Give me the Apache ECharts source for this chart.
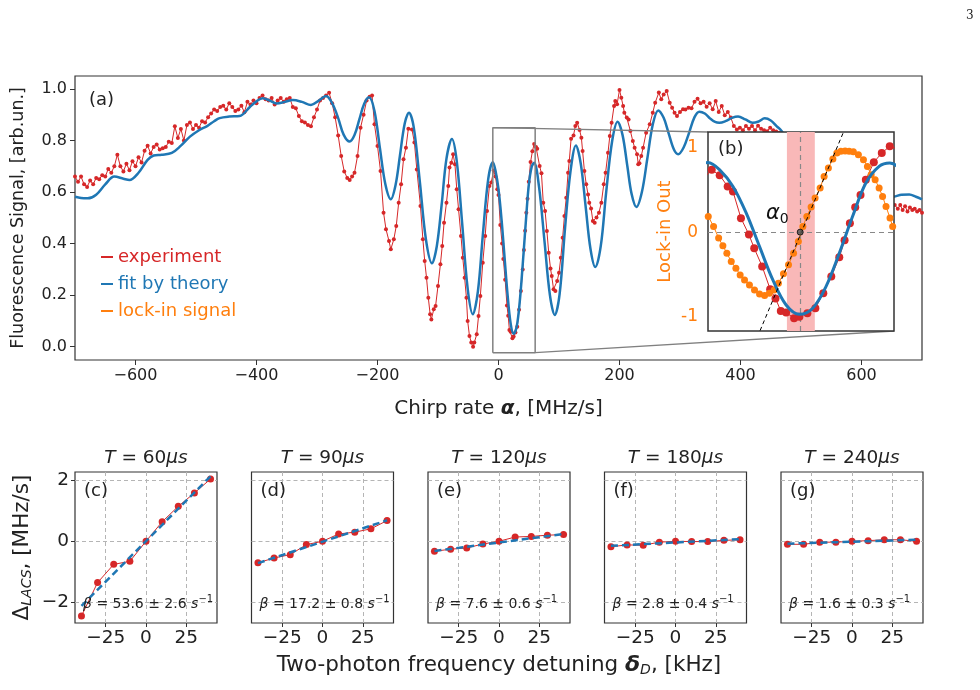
<!DOCTYPE html>
<html>
<head>
<meta charset="utf-8">
<script src="https://cdn.jsdelivr.net/npm/echarts@6/dist/echarts.min.js"></script>
<style>html,body{margin:0;padding:0;background:#fff}#chart{width:980px;height:690px}</style>
</head>
<body>
<div id="chart"></div>
<script>
// ---- panel (a): fluorescence vs chirp rate ----
var experiment = [
[-700,0.66],[-695,0.64],[-690,0.66],[-685,0.63],[-680,0.62],[-675,0.645],[-670,0.63],[-665,0.655],[-660,0.65],[-655,0.665],
[-650,0.66],[-645,0.69],[-640,0.675],[-635,0.70],[-630,0.745],[-625,0.70],[-620,0.68],[-615,0.71],[-610,0.685],[-605,0.72],
[-600,0.70],[-595,0.735],[-590,0.715],[-585,0.76],[-580,0.78],[-575,0.75],[-570,0.775],[-565,0.785],[-560,0.765],[-555,0.77],
[-550,0.775],[-545,0.795],[-540,0.79],[-535,0.855],[-530,0.81],[-525,0.845],[-520,0.80],[-515,0.86],[-510,0.87],[-505,0.845],
[-500,0.86],[-495,0.85],[-490,0.875],[-485,0.87],[-480,0.89],[-475,0.905],[-470,0.92],[-465,0.915],[-460,0.93],[-455,0.935],
[-450,0.92],[-445,0.945],[-440,0.93],[-435,0.915],[-430,0.92],[-425,0.935],[-420,0.91],[-415,0.95],[-410,0.94],[-405,0.955],
[-400,0.945],[-395,0.965],[-390,0.975],[-385,0.96],[-380,0.955],[-375,0.965],[-370,0.94],[-365,0.955],[-360,0.965],[-355,0.95],
[-350,0.96],[-345,0.965],[-340,0.93],[-335,0.925],[-330,0.895],[-325,0.875],[-320,0.87],[-315,0.86],[-310,0.855],[-305,0.89],
[-300,0.92],[-295,0.955],[-290,0.965],[-285,0.975],[-280,0.985],[-275,0.945],[-270,0.89],[-265,0.82],[-260,0.74],[-255,0.68],
[-250,0.655],[-246,0.647],[-242,0.66],[-238,0.675],[-233,0.74],[-228,0.85],[-223,0.90],[-218,0.955],[-213,0.97],[-209,0.975],
[-205,0.863],[-200,0.779],[-195,0.682],[-190,0.52],[-186,0.456],[-181,0.41],[-178,0.378],[-173,0.417],[-169,0.468],[-165,0.559],
[-161,0.63],[-157,0.727],[-153,0.772],[-149,0.846],[-143,0.843],[-139,0.792],[-135,0.688],[-129,0.546],[-125,0.417],[-122,0.333],
[-119,0.268],[-116,0.19],[-113,0.126],[-111,0.106],[-107,0.145],[-104,0.158],[-100,0.236],[-96,0.32],[-93,0.391],[-90,0.481],
[-86,0.559],[-83,0.624],[-81,0.695],[-78,0.714],[-75,0.747],[-72,0.708],[-69,0.611],[-66,0.533],[-62,0.43],[-59,0.345],
[-56,0.268],[-53,0.19],[-51,0.1],[-48,0.042],[-45,0.016],[-42,0.0],[-40,0.016],[-36,0.048],[-33,0.119],[-30,0.197],
[-26,0.326],[-22,0.43],[-19,0.527],[-15,0.624],[-12,0.637],[-8,0.684],[-5,0.66],[-2,0.611],[0,0.589],[3,0.472],
[6,0.40],[8,0.34],[11,0.26],[14,0.16],[16,0.12],[18,0.065],[20,0.058],[23,0.033],[25,0.04],[28,0.055],
[31,0.077],[34,0.143],[37,0.216],[40,0.30],[42,0.375],[44,0.45],[46,0.52],[48,0.574],[50,0.64],[53,0.717],
[56,0.758],[59,0.787],[62,0.775],[64,0.768],[68,0.701],[71,0.673],[74,0.559],[77,0.527],[80,0.449],[83,0.365],
[86,0.303],[88,0.274],[91,0.223],[94,0.216],[97,0.255],[100,0.287],[103,0.345],[106,0.423],[109,0.507],[112,0.578],
[115,0.675],[117,0.721],[120,0.807],[124,0.82],[127,0.856],[130,0.869],[134,0.841],[137,0.811],[139,0.759],[142,0.682],
[145,0.63],[148,0.591],[150,0.559],[153,0.536],[156,0.488],[159,0.481],[162,0.501],[166,0.52],[170,0.559],[174,0.63],
[177,0.675],[181,0.753],[184,0.818],[187,0.869],[191,0.934],[193,0.953],[196,0.941],[200,0.996],[203,0.966],[206,0.934],
[208,0.908],[212,0.889],[215,0.882],[218,0.837],[222,0.798],[225,0.772],[229,0.747],[231,0.708],[233,0.712],[236,0.74],
[239,0.772],[244,0.83],[250,0.863],[255,0.908],[259,0.947],[265,0.986],[269,0.96],[273,0.979],[278,0.992],[283,0.947],
[287,0.927],[291,0.908],[295,0.895],[300,0.911],[305,0.921],[309,0.92],[314,0.927],[319,0.925],[324,0.95],[329,0.962],
[334,0.945],[339,0.95],[344,0.931],[349,0.945],[354,0.921],[359,0.953],[364,0.911],[369,0.934],[374,0.898],[379,0.911],
[384,0.889],[389,0.856],[394,0.843],[399,0.85],[404,0.84],[409,0.856],[414,0.846],[419,0.856],[424,0.84],[429,0.857],
[434,0.846],[439,0.84],[444,0.836],[449,0.85],[454,0.84],[459,0.835],[464,0.83],[470,0.82],[480,0.80],[490,0.81],
[500,0.78],[520,0.75],[540,0.72],[560,0.68],[580,0.63],[600,0.60],[620,0.57],[640,0.56],[655,0.55],[660,0.535],
[664,0.55],[668,0.53],[672,0.545],[676,0.525],[680,0.54],[684,0.53],[688,0.535],[692,0.525],[696,0.53],[700,0.52]
];
var fitTheory = [
[-700,0.582],[-690,0.577],[-679,0.576],[-665,0.59],[-650,0.63],[-635,0.66],[-620,0.652],[-610,0.647],[-595,0.675],[-580,0.725],
[-570,0.742],[-557,0.745],[-540,0.752],[-525,0.78],[-510,0.815],[-495,0.84],[-481,0.857],[-470,0.875],[-461,0.887],[-445,0.893],
[-428,0.895],[-411,0.93],[-400,0.952],[-390,0.964],[-378,0.955],[-367,0.944],[-353,0.95],[-340,0.957],[-325,0.95],[-310,0.938],
[-297,0.955],[-285,0.973],[-275,0.945],[-265,0.887],[-256,0.823],[-246,0.796],[-238,0.821],[-230,0.882],[-222,0.943],[-214,0.968],
[-205,0.915],[-196,0.77],[-187,0.63],[-178,0.572],[-170,0.629],[-163,0.74],[-155,0.866],[-148,0.908],[-140,0.85],[-130,0.64],
[-120,0.417],[-110,0.324],[-102,0.39],[-94,0.55],[-86,0.73],[-77,0.806],[-69,0.72],[-60,0.477],[-51,0.226],[-42.5,0.126],
[-34,0.216],[-26,0.43],[-17,0.65],[-9.4,0.716],[-5,0.684],[0,0.611],[5,0.494],[10,0.347],[15,0.201],[20,0.091],
[25,0.05],[30,0.077],[35,0.172],[40,0.318],[45,0.479],[50,0.626],[55,0.699],[59,0.714],[67,0.62],[76,0.41],
[85,0.2],[93,0.123],[101,0.204],[110,0.46],[119,0.68],[128,0.781],[136,0.71],[144,0.545],[152,0.38],[160,0.309],
[169,0.39],[178,0.6],[188,0.8],[197,0.873],[205,0.822],[213,0.70],[220,0.593],[228,0.542],[237,0.60],[246,0.73],
[255,0.862],[264,0.917],[273,0.888],[281,0.83],[290,0.765],[297,0.747],[306,0.773],[315,0.83],[324,0.891],[332,0.912],
[341,0.905],[350,0.885],[358,0.872],[365,0.869],[375,0.875],[386,0.888],[396,0.893],[408,0.882],[420,0.869],[430,0.874],
[440,0.886],[450,0.878],[460,0.855],[467,0.84],[480,0.80],[500,0.76],[530,0.70],[560,0.65],[590,0.62],[620,0.60],
[640,0.585],[653,0.582],[666,0.59],[679,0.591],[690,0.582],[700,0.572]
];
var xTicksA = [-600, -400, -200, 0, 200, 400, 600];
var yTicksA = [0, 0.2, 0.4, 0.6, 0.8, 1.0];

// ---- panel (b): inset with lock-in signal ----
var insetAlpha = [-9.4, 60.6];
var insetSignal = [-0.023, 0.85];
var lockinRange = [-1.175, 1.19];
var lockinTicks = [-1, 0, 1];
var lockin = [
[-9.3,0.186],[-7.3,0.067],[-5.4,-0.071],[-3.8,-0.163],[-2.3,-0.25],[-0.65,-0.35],[1.1,-0.429],[2.7,-0.508],[4.35,-0.568],[6.2,-0.627],
[8.1,-0.687],[10,-0.735],[11.9,-0.754],[13.7,-0.726],[15.5,-0.687],[17.1,-0.607],[19,-0.496],[20.9,-0.389],[22.8,-0.25],[24.6,-0.112],
[26.3,0.067],[27.8,0.186],[29.4,0.298],[30.9,0.405],[32.8,0.524],[34.3,0.662],[35.9,0.762],[37.6,0.869],[39.1,0.94],[40.6,0.96],
[42.2,0.965],[43.7,0.96],[45.3,0.955],[47.2,0.92],[49.1,0.861],[50.6,0.781],[52,0.682],[53.5,0.623],[55,0.524],[56.3,0.424],
[57.6,0.305],[59.1,0.167],[60.1,0.067]
];
var tangent = [[10.2, -1.17], [41.6, 1.19]];
var alpha0 = 25.3;
var alphaBand = [20.3, 30.8];

// ---- panels (c)-(g): Delta_LACS vs two-photon detuning ----
var detuning = [-40, -30, -20, -10, 0, 10, 20, 30, 40];
var lacs60  = [-2.46, -1.36, -0.76, -0.66, 0.0, 0.64, 1.15, 1.59, 2.05];
var lacs90  = [-0.71, -0.55, -0.44, -0.11, 0.0, 0.24, 0.30, 0.41, 0.68];
var lacs120 = [-0.33, -0.26, -0.22, -0.09, 0.0, 0.14, 0.16, 0.20, 0.22];
var lacs180 = [-0.18, -0.12, -0.13, -0.03, 0.0, -0.01, -0.01, 0.03, 0.05];
var lacs240 = [-0.10, -0.10, -0.03, -0.03, 0.0, 0.02, 0.05, 0.05, 0.0];
var fitEnds = [-40, 40];
var fit60  = [-2.13, 2.14];
var fit90  = [-0.72, 0.69];
var fit120 = [-0.32, 0.24];
var fit180 = [-0.15, 0.07];
var fit240 = [-0.08, 0.05];
var periods = ['60', '90', '120', '180', '240'];
var tags = ['(c)', '(d)', '(e)', '(f)', '(g)'];
var betas = ['53.6 ± 2.6', '17.2 ± 0.8', '7.6 ± 0.6', '2.8 ± 0.4', '1.6 ± 0.3'];
var xTicksP = [-25, 0, 25];
var yTicksP = [-2, 0, 2];

var RED = '#d62728', BLUE = '#1f77b4', ORANGE = '#ff7f0e';
var FONT = 'DejaVu Sans';

function minus(v) { return v < 0 ? '\u2212' + Math.abs(v) : String(v); }
function pairs(xs, ys) { return xs.map(function (x, i) { return [x, ys[i]]; }); }

var chart = echarts.init(document.getElementById('chart'), null, { renderer: 'canvas' });

var grids = [
  { left: 75, top: 76, width: 847, height: 284, show: true, borderColor: '#333', borderWidth: 1.2, backgroundColor: 'transparent', z: 0, outerBoundsMode: 'none' },
  { left: 708, top: 132, width: 186, height: 199, show: true, borderColor: '#333', borderWidth: 1.5, backgroundColor: '#fff', z: 10, outerBoundsMode: 'none' }
];
var xAxes = [
  { gridIndex: 0, type: 'value', min: -700, max: 700, position: 'bottom',
    axisLine: { show: false, onZero: false }, splitLine: { show: false },
    axisTick: { show: true, customValues: xTicksA, length: 5, lineStyle: { color: '#333' } },
    axisLabel: { customValues: xTicksA, formatter: minus, color: '#222', fontSize: 16, fontFamily: FONT, margin: 8 },
    name: 'Chirp rate {b|α}, [MHz/s]', nameLocation: 'middle', nameGap: 39,
    nameTextStyle: { color: '#222', fontSize: 20, fontFamily: FONT,
      rich: { b: { fontSize: 20, fontFamily: FONT, fontStyle: 'italic', fontWeight: 'bold', color: '#222' } } } },
  { gridIndex: 1, type: 'value', min: insetAlpha[0], max: insetAlpha[1], show: false, z: 11,
    axisLine: { onZero: false } }
];
var yAxes = [
  { gridIndex: 0, type: 'value', min: -0.0516, max: 1.0504, position: 'left',
    axisLine: { show: false, onZero: false }, splitLine: { show: false },
    axisTick: { show: true, customValues: yTicksA, length: 5, lineStyle: { color: '#333' } },
    axisLabel: { customValues: yTicksA, formatter: function (v) { return v.toFixed(1); }, color: '#222', fontSize: 16, fontFamily: FONT, margin: 8 },
    name: 'Fluorescence Signal, [arb.un.]', nameLocation: 'middle', nameGap: 48, nameRotate: 90,
    nameTextStyle: { color: '#222', fontSize: 17.5, fontFamily: FONT } },
  { gridIndex: 1, type: 'value', min: lockinRange[0], max: lockinRange[1], z: 11, position: 'left',
    axisLine: { show: false, onZero: false }, splitLine: { show: false }, axisTick: { show: false },
    axisLabel: { customValues: lockinTicks, formatter: function (v) { return v < 0 ? '-' + Math.abs(v) : String(v); },
      color: ORANGE, fontSize: 17, fontFamily: FONT, margin: 10 },
    name: 'Lock-in Out', nameLocation: 'middle', nameGap: 34, nameRotate: 90,
    nameTextStyle: { color: ORANGE, fontSize: 18, fontFamily: FONT } },
  { gridIndex: 1, type: 'value', min: insetSignal[0], max: insetSignal[1], show: false, z: 11,
    axisLine: { onZero: false } }
];

var zoomBox = [
  [insetAlpha[0], insetSignal[0]], [insetAlpha[1], insetSignal[0]],
  [insetAlpha[1], insetSignal[1]], [insetAlpha[0], insetSignal[1]], [insetAlpha[0], insetSignal[0]]
];

var series = [
  { name: 'experiment', type: 'line', xAxisIndex: 0, yAxisIndex: 0, data: experiment, z: 2,
    symbol: 'circle', symbolSize: 4, showSymbol: true, color: RED, lineStyle: { width: 1, color: RED }, itemStyle: { color: RED } },
  { name: 'fit by theory', type: 'line', xAxisIndex: 0, yAxisIndex: 0, data: fitTheory, z: 3,
    smooth: 0.35, symbol: 'none', color: BLUE, lineStyle: { width: 2.5, color: BLUE } },
  { type: 'line', xAxisIndex: 0, yAxisIndex: 0, data: zoomBox, z: 4, symbol: 'none', silent: true,
    lineStyle: { width: 1.5, color: '#808080' } },
  // inset guides: shaded band, zero line, alpha0 line
  { type: 'line', xAxisIndex: 1, yAxisIndex: 1, data: [[alpha0, 0]], z: 12, symbol: 'none', showSymbol: false, silent: true,
    lineStyle: { width: 0, opacity: 0 },
    markArea: { silent: true, z: 12, itemStyle: { color: '#f9b8b8', opacity: 1 }, data: [[{ xAxis: alphaBand[0] }, { xAxis: alphaBand[1] }]] },
    markLine: { silent: true, z: 12, symbol: 'none', label: { show: false },
      lineStyle: { color: '#888', type: [5, 4], width: 1.2 },
      data: [{ yAxis: 0 }, { xAxis: alpha0 }] } },
  { name: 'experiment', type: 'line', xAxisIndex: 1, yAxisIndex: 2, data: experiment, z: 13,
    symbol: 'circle', symbolSize: 8, color: RED, lineStyle: { width: 1, color: RED }, itemStyle: { color: RED } },
  { name: 'lock-in signal', type: 'line', xAxisIndex: 1, yAxisIndex: 1, data: lockin, z: 14,
    symbol: 'circle', symbolSize: 7, color: ORANGE, lineStyle: { width: 1, color: ORANGE }, itemStyle: { color: ORANGE } },
  { name: 'fit by theory', type: 'line', xAxisIndex: 1, yAxisIndex: 2, data: fitTheory, z: 15,
    smooth: 0.35, symbol: 'none', color: BLUE, lineStyle: { width: 3, color: BLUE } },
  { type: 'line', xAxisIndex: 1, yAxisIndex: 1, data: tangent, z: 16, symbol: 'none',
    lineStyle: { width: 1, color: '#000', type: [4, 3] } },
  { type: 'scatter', xAxisIndex: 1, yAxisIndex: 1, data: [[alpha0, 0]], z: 17, symbolSize: 6,
    itemStyle: { color: '#555', borderColor: '#000', borderWidth: 1 } }
];

var panelLacs = [lacs60, lacs90, lacs120, lacs180, lacs240];
var panelFit = [fit60, fit90, fit120, fit180, fit240];
var panelLeft = [75, 251.5, 428, 604.5, 781];
var PW = 142, PT = 472, PH = 151;
var graphics = [
  { type: 'text', z: 100, style: { text: '3', x: 966, y: 16, fontSize: 12, fontFamily: 'DejaVu Serif', fill: '#222', verticalAlign: 'middle', textVerticalAlign: 'middle' } },
  { type: 'text', z: 100, style: { text: '(a)', x: 89, y: 100, fontSize: 18, fontFamily: FONT, fill: '#222', verticalAlign: 'middle', textVerticalAlign: 'middle' } },
  { type: 'text', z: 100, style: { text: '(b)', x: 718, y: 149, fontSize: 18, fontFamily: FONT, fill: '#222', verticalAlign: 'middle', textVerticalAlign: 'middle' } },
  { type: 'text', z: 100, style: { text: '{a|α}{s|0}', x: 766, y: 214, fontSize: 20, fontFamily: FONT, fill: '#111',
      verticalAlign: 'middle', textVerticalAlign: 'middle',
      rich: { a: { fontSize: 21, fontFamily: FONT, fontStyle: 'italic', fill: '#111', color: '#111' },
              s: { fontSize: 14, fontFamily: FONT, fill: '#111', color: '#111', verticalAlign: 'bottom', padding: [10, 0, 0, 0] } } } }
];

for (var k = 0; k < 5; k++) {
  var gi = k + 2;
  grids.push({ left: panelLeft[k], top: PT, width: PW, height: PH, show: true, borderColor: '#333', borderWidth: 1.2, backgroundColor: 'transparent', outerBoundsMode: 'none' });
  var xa = { gridIndex: gi, type: 'value', min: -44, max: 44, position: 'bottom',
    axisLine: { show: false, onZero: false },
    splitLine: { show: true, lineStyle: { color: '#b5b5b5', type: [4, 3], width: 1 } },
    axisTick: { show: true, customValues: xTicksP, length: 4, lineStyle: { color: '#333' } },
    axisLabel: { customValues: xTicksP, formatter: minus, color: '#222', fontSize: 18.5, fontFamily: FONT, margin: 6 } };
  if (k === 2) {
    xa.name = 'Two-photon frequency detuning {b|δ}{s|D}, [kHz]';
    xa.nameLocation = 'middle';
    xa.nameGap = 31;
    xa.nameTextStyle = { color: '#222', fontSize: 21.5, fontFamily: FONT,
      rich: { b: { fontSize: 22, fontFamily: FONT, fontStyle: 'italic', fontWeight: 'bold', color: '#222' },
              s: { fontSize: 14, fontFamily: FONT, fontStyle: 'italic', color: '#222', padding: [9, 0, 0, 0] } } };
  }
  xAxes.push(xa);
  var ya = { gridIndex: gi, type: 'value', min: -2.69, max: 2.28, position: 'left',
    axisLine: { show: false, onZero: false },
    splitLine: { show: true, lineStyle: { color: '#b5b5b5', type: [4, 3], width: 1 } },
    axisTick: { show: k === 0, customValues: yTicksP, length: 4, lineStyle: { color: '#333' } },
    axisLabel: { show: k === 0, customValues: yTicksP, formatter: minus, color: '#222', fontSize: 18.5, fontFamily: FONT, margin: 6 } };
  if (k === 0) {
    ya.name = 'Δ{s|LACS}, [MHz/s]';
    ya.nameLocation = 'middle';
    ya.nameGap = 41;
    ya.nameRotate = 90;
    ya.nameTextStyle = { color: '#222', fontSize: 21.5, fontFamily: FONT,
      rich: { s: { fontSize: 14, fontFamily: FONT, fontStyle: 'italic', color: '#222', padding: [9, 0, 0, 0] } } };
  }
  yAxes.push(ya);
  series.push({ type: 'line', xAxisIndex: gi, yAxisIndex: gi + 1, data: pairs(detuning, panelLacs[k]), z: 5,
    symbol: 'circle', symbolSize: 7, color: RED, lineStyle: { width: 1, color: RED }, itemStyle: { color: RED } });
  series.push({ type: 'line', xAxisIndex: gi, yAxisIndex: gi + 1, data: pairs(fitEnds, panelFit[k]), z: 6,
    symbol: 'none', color: BLUE, lineStyle: { width: 2.5, color: BLUE, type: [7, 4] } });

  var cx = panelLeft[k] + PW / 2;
  graphics.push({ type: 'text', z: 100, style: { text: '{i|T} = ' + periods[k] + '{i|μs}', x: cx, y: 458,
    fontSize: 18.5, fontFamily: FONT, fill: '#222', align: 'center', textAlign: 'center', verticalAlign: 'middle', textVerticalAlign: 'middle',
    rich: { i: { fontSize: 18.5, fontFamily: FONT, fontStyle: 'italic', fill: '#222', color: '#222' } } } });
  graphics.push({ type: 'text', z: 100, style: { text: tags[k], x: panelLeft[k] + 9, y: 491,
    fontSize: 18, fontFamily: FONT, fill: '#222', verticalAlign: 'middle', textVerticalAlign: 'middle' } });
  graphics.push({ type: 'text', z: 100, style: { text: '{i|β} = ' + betas[k] + ' {i|s}{u|−1}', x: panelLeft[k] + 8, y: 604,
    fontSize: 14, fontFamily: FONT, fill: '#222', verticalAlign: 'middle', textVerticalAlign: 'middle',
    rich: { i: { fontSize: 14, fontFamily: FONT, fontStyle: 'italic', fill: '#222', color: '#222' },
            u: { fontSize: 10, fontFamily: FONT, fill: '#222', color: '#222', padding: [0, 0, 9, 0] } } } });
}

var option = {
  animation: false,
  backgroundColor: '#fff',
  textStyle: { fontFamily: FONT },
  grid: grids,
  xAxis: xAxes,
  yAxis: yAxes,
  legend: {
    orient: 'vertical', left: 96, top: 243, itemGap: 9, itemWidth: 12, itemHeight: 2, icon: 'rect',
    textStyle: { fontSize: 18, fontFamily: FONT },
    data: [
      { name: 'experiment', textStyle: { color: RED } },
      { name: 'fit by theory', textStyle: { color: BLUE } },
      { name: 'lock-in signal', textStyle: { color: ORANGE } }
    ]
  },
  series: series,
  graphic: graphics
};
chart.setOption(option);

// connector lines between the zoom box and the inset
var boxTL = chart.convertToPixel({ xAxisIndex: 0, yAxisIndex: 0 }, [insetAlpha[0], insetSignal[1]]);
var boxBR = chart.convertToPixel({ xAxisIndex: 0, yAxisIndex: 0 }, [insetAlpha[1], insetSignal[0]]);
var insTL = chart.convertToPixel({ xAxisIndex: 1, yAxisIndex: 1 }, [insetAlpha[0], lockinRange[1]]);
var insBR = chart.convertToPixel({ xAxisIndex: 1, yAxisIndex: 1 }, [insetAlpha[1], lockinRange[0]]);
graphics.push({ type: 'line', z: 5, shape: { x1: boxTL[0], y1: boxTL[1], x2: insTL[0], y2: insTL[1] }, style: { stroke: '#808080', lineWidth: 1.3 } });
graphics.push({ type: 'line', z: 5, shape: { x1: boxBR[0], y1: boxBR[1], x2: insBR[0], y2: insBR[1] }, style: { stroke: '#808080', lineWidth: 1.3 } });
chart.setOption({ graphic: graphics });
</script>
</body>
</html>
